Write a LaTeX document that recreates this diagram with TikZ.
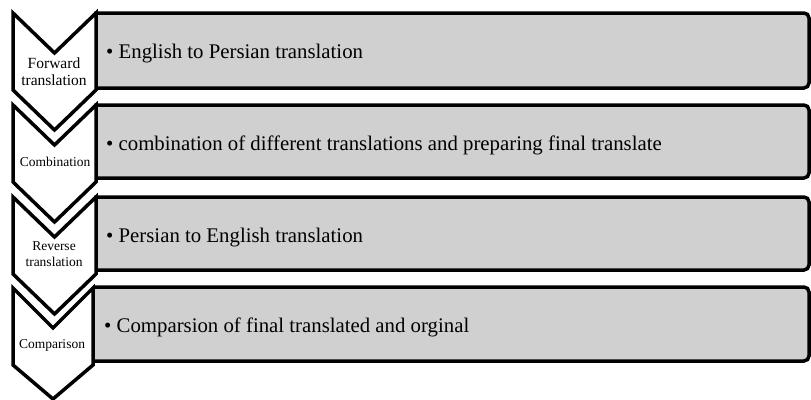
\documentclass[tikz,border=0pt]{standalone}
\usepackage{fontspec}
\setmainfont{Liberation Serif}
\definecolor{boxgray}{RGB}{208,208,208}
\tikzset{
	stagebox/.style={draw=black, fill=boxgray, line width=3.5pt, rounded corners=5pt},
	chevron/.style={draw=black, fill=white, line width=3.5pt, line join=miter},
	itemtext/.style={anchor=base west, inner sep=0pt, font=\fontsize{20.8}{24}\selectfont},
	stagetext/.style={align=center, inner sep=0pt, font=\fontsize{13.5}{16}\selectfont}
}
\begin{document}
\begin{tikzpicture}[x=1pt, y=-1pt]
	\useasboundingbox (0,0) rectangle (811,399);
	% Grey boxes (left end hidden under the chevrons)
	\begin{scope}
		\clip (94.25,0) rectangle (811,399);
		\foreach \t/\b in {13/88, 105/178, 197/270, 287/361}
		\draw[stagebox] (80,\t) rectangle (809,\b);
	\end{scope}
	% Chevrons, top to bottom
	\foreach \t/\r/\tip in {13/96/40, 105/96/40, 197/96/40, 288/93/34}
	\draw[chevron] (13,\t) -- ({(13+\r)/2},\t+40) -- (\r,\t) -- (\r,\t+77)
		-- ({(13+\r)/2},\t+77+\tip) -- (13,\t+77) -- cycle;
	% Stage names
	\node[stagetext, font=\fontsize{15.5}{16.5}\selectfont] (forward) at (54,71.5) {Forward\\translation};
	\node[stagetext] (combine) at (55,162) {Combination};
	\node[stagetext] (reverse) at (54,254) {Reverse\\translation};
	\node[stagetext] (compare) at (52,345) {Comparison};
	% Box texts
	\node[itemtext] (item1) at (106,58) {\textbullet\ English to Persian translation};
	\node[itemtext] (item2) at (106,150) {\textbullet\ combination of different translations and preparing final translate};
	\node[itemtext] (item3) at (106,242) {\textbullet\ Persian to English translation};
	\node[itemtext] (item4) at (104,332) {\textbullet\ Comparsion of final translated and orginal};
\end{tikzpicture}
\end{document}
